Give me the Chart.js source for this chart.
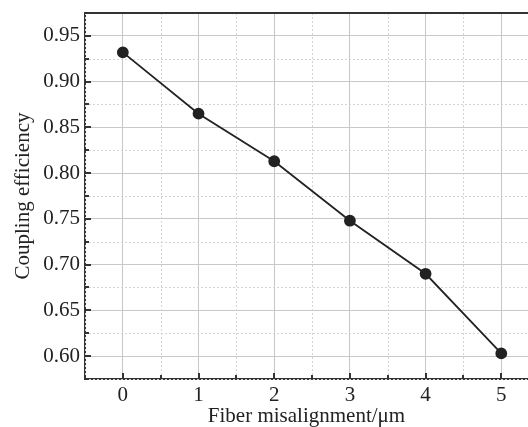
<!DOCTYPE html>
<html>
<head>
<meta charset="utf-8">
<script src="https://cdn.jsdelivr.net/npm/chart.js@4"></script>
<style>
  html, body { margin: 0; padding: 0; background: #fff; }
  #wrap { width: 528px; height: 427px; }
</style>
</head>
<body>
<div id="wrap"><canvas id="chart"></canvas></div>
<script>
// data
const misalignment = [0, 1, 2, 3, 4, 5];
const efficiency = [0.932, 0.865, 0.813, 0.748, 0.690, 0.603];
const xTickVals = [0, 1, 2, 3, 4, 5];
const yTickVals = [0.60, 0.65, 0.70, 0.75, 0.80, 0.85, 0.90, 0.95];

const FONT = "'Liberation Serif', 'Times New Roman', serif";
const AXIS = "#333";

// dotted minor grid, inward tick marks and the top frame line
const frame = {
  id: "frame",
  beforeDatasetsDraw(chart) {
    const { ctx, chartArea: a, scales: { x, y } } = chart;
    ctx.save();
    ctx.strokeStyle = "#d4d4d4";
    ctx.lineWidth = 1;
    ctx.setLineDash([2, 2]);
    for (let v = -0.5; v <= x.max; v += 1) {
      const px = Math.round(x.getPixelForValue(v)) + 0.5;
      ctx.beginPath(); ctx.moveTo(px, a.top); ctx.lineTo(px, a.bottom); ctx.stroke();
    }
    for (let v = 0.575; v <= y.max; v += 0.05) {
      const py = Math.round(y.getPixelForValue(v)) + 0.5;
      ctx.beginPath(); ctx.moveTo(a.left, py); ctx.lineTo(a.right, py); ctx.stroke();
    }
    ctx.restore();
  },
  afterDatasetsDraw(chart) {
    const { ctx, chartArea: a, scales: { x, y } } = chart;
    ctx.save();
    ctx.strokeStyle = AXIS;
    ctx.lineWidth = 2;
    // top frame
    ctx.beginPath(); ctx.moveTo(a.left, a.top); ctx.lineTo(a.right, a.top); ctx.stroke();
    // x ticks (major + minor), pointing up
    for (let v = -0.5; v <= x.max; v += 0.5) {
      const px = Math.round(x.getPixelForValue(v));
      const len = Number.isInteger(v) ? 6 : 4;
      ctx.beginPath(); ctx.moveTo(px, a.bottom); ctx.lineTo(px, a.bottom - len); ctx.stroke();
    }
    // y ticks, pointing right
    for (let v = 0.575; v <= y.max + 1e-9; v += 0.025) {
      const py = Math.round(y.getPixelForValue(v));
      const major = Math.abs(Math.round(v * 20) - v * 20) < 1e-6;
      const len = major ? 6 : 4;
      ctx.beginPath(); ctx.moveTo(a.left, py); ctx.lineTo(a.left + len, py); ctx.stroke();
    }
    ctx.restore();
  }
};

new Chart(document.getElementById("chart"), {
  type: "line",
  data: {
    datasets: [{
      data: misalignment.map((m, i) => ({ x: m, y: efficiency[i] })),
      borderColor: "#222",
      backgroundColor: "#222",
      borderWidth: 1.8,
      pointRadius: 5,
      pointHoverRadius: 5,
      tension: 0
    }]
  },
  options: {
    responsive: true,
    maintainAspectRatio: false,
    animation: false,
    layout: { autoPadding: false, padding: { top: 13, right: 0, left: 0, bottom: 0 } },
    plugins: { legend: { display: false }, tooltip: { enabled: false } },
    scales: {
      x: {
        type: "linear",
        min: -0.5,
        max: 5.353,
        afterBuildTicks: s => { s.ticks = xTickVals.map(v => ({ value: v })); },
        afterFit: s => { s.height = 48; s.paddingLeft = 0; s.paddingRight = 0; },
        ticks: { color: "#222", padding: 4, font: { family: FONT, size: 21 } },
        grid: { color: "#c8c8c8", lineWidth: 1, drawTicks: false },
        border: { color: AXIS, width: 2 },
        title: {
          display: true,
          text: "Fiber misalignment/\u03bcm",
          color: "#222",
          font: { family: FONT, size: 21 },
          padding: { top: 0, bottom: -2 }
        }
      },
      y: {
        min: 0.575,
        max: 0.975,
        afterBuildTicks: s => { s.ticks = yTickVals.map(v => ({ value: v })); },
        afterFit: s => { s.width = 85; s.paddingTop = 0; s.paddingBottom = 0; },
        ticks: {
          color: "#222",
          padding: 5,
          font: { family: FONT, size: 21 },
          callback: v => v.toFixed(2)
        },
        grid: { color: "#c8c8c8", lineWidth: 1, drawTicks: false },
        border: { color: AXIS, width: 2 },
        title: {
          display: true,
          text: "Coupling efficiency",
          color: "#222",
          font: { family: FONT, size: 21 },
          padding: { top: 11, bottom: 0 }
        }
      }
    }
  },
  plugins: [frame]
});
</script>
</body>
</html>
